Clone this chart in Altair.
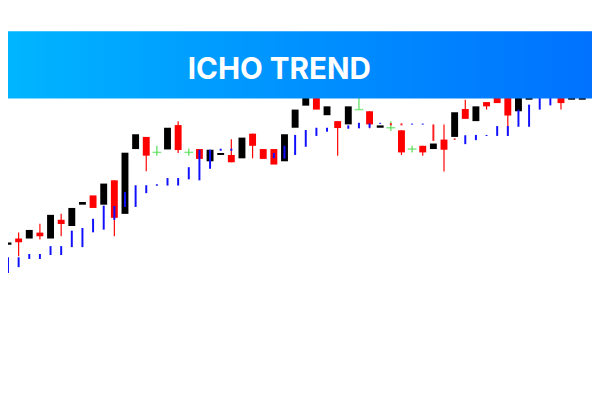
import altair as alt
import pandas as pd

idx = list(range(1, 56))
kind = ["b","r","b","r","b","r","b","b","r","b",
        "r","b","b","r","g","b","r","g","r","b",
        "b","r","b","r","r","r","b","b","b","r",
        "b","r","b","g","r","b","g","r","g","r",
        "b","r","b","r","b","r","r","r","b","b",
        "b","b","r","b","b"]
open_ = [154.7,161,161,167,161,180,173.7,195.3,204.7,195.3,
         220,186,251.7,264,248.3,251.3,276,248.3,251.7,239.3,
         245.7,245.7,242.3,267.3,251.7,251.7,239.3,273.3,295.7,310,
         286,280,276.7,291.7,290,273.3,273.3,270.7,251.7,255,
         251.7,261.3,264,292.3,280,299.3,305,305,290,301.7,
         305,305,308,301.7,301.7]
close = [157,157.3,169.7,163.3,185,175.7,192,198,192,216.7,
         182,248,266.7,245,248.3,273.3,250.7,248.3,241.7,251,
         247.7,238.3,263.3,255,241.7,236,266.7,291.7,310,291.7,
         295,273,295,291.7,276.7,275.7,273.3,248.3,251.7,248.3,
         257.3,251,289,282.3,295,295,298.3,285.7,310,315,
         315,315,298.3,310,310]
high = [None,167,None,176,None,186,None,None,None,None,
        None,None,None,None,255,None,280,252.3,None,None,
        None,261.7,None,None,None,None,None,None,None,None,
        None,None,None,312,None,None,280,None,255,None,
        None,276.7,None,301.7,None,None,None,None,None,None,
        None,None,None,None,None]
low = [None,143,None,160,None,163.3,None,None,None,None,
       163.3,None,None,229.3,245,None,247.7,245,None,None,
       None,None,None,242.3,None,None,None,None,None,None,
       None,245,None,291.7,272.7,None,270,245.7,248.3,245,
       None,229,None,None,None,291.7,None,265,None,None,
       None,None,291.7,None,None]
ind_top = [142,142,145.3,145.3,153.3,153.3,169,171.7,181,194.3,
           194,208,215,215,216,222.3,222.3,233.3,251,251,
           252,252,None,None,None,247.7,255,266,271,273.3,
           273.3,None,275.7,278.3,277.7,278.3,278,277.7,277.5,277.5,
           276.7,None,262.5,265.7,266,266,275,275,291.7,296.7,
           310,310,None,None,None]
ind_bot = [126,132,140.3,140.3,144.3,144.3,152.3,152.3,167.3,170,
           180,193,193,207,214.5,214.7,214.7,221,220,231.7,
           250,250,None,None,None,242.3,242,245.7,254,265,
           269.3,None,272.3,272.7,273.3,277.3,275.7,275.7,276.5,276.5,
           260,None,261,256.7,260.7,265,265,265,274.3,274.3,
           291.7,296,None,None,None]
ind_red = [37, 38, 41, 43]
title_text = "ICHO TREND"

W, H = 592, 392
xs = alt.Scale(domain=[1, 1 + W / 10.78], zero=False, nice=False, padding=0)
ys = alt.Scale(domain=[0, H], zero=False, nice=False, padding=0)
col_map = {"b": "#000000", "r": "#ff0000", "g": "#55dd55"}

rows = []
for i, k, o, c, hi, lo in zip(idx, kind, open_, close, high, low):
    rows.append(dict(i=i, kind=k, o=o, c=c,
                     top=max(o, c), bot=min(o, c),
                     hi=hi if hi is not None else max(o, c),
                     lo=lo if lo is not None else min(o, c),
                     haswick=(hi is not None or lo is not None),
                     color=col_map[k]))
df = pd.DataFrame(rows)

irows = []
for i, t, b in zip(idx, ind_top, ind_bot):
    if t is None:
        continue
    irows.append(dict(i=i, t=t, b=b, color="#ff2020" if i in ind_red else "#1010ff"))
dfi = pd.DataFrame(irows)

X = alt.X("i:Q", scale=xs, axis=None)

wicks = alt.Chart(df[df.haswick]).mark_rule(strokeWidth=1.2).encode(
    x=X,
    y=alt.Y("hi:Q", scale=ys, axis=None),
    y2="lo:Q",
    color=alt.Color("color:N", scale=None),
)
bodies = alt.Chart(df[df.kind != "g"]).mark_bar(size=7).encode(
    x=X,
    y=alt.Y("top:Q", scale=ys, axis=None),
    y2="bot:Q",
    color=alt.Color("color:N", scale=None),
)
doji = alt.Chart(df[df.kind == "g"]).mark_tick(orient="horizontal", size=9, thickness=1.5).encode(
    x=X,
    y=alt.Y("o:Q", scale=ys, axis=None),
    color=alt.Color("color:N", scale=None),
)
ind = alt.Chart(dfi).mark_rule(strokeWidth=2).encode(
    x=X,
    y=alt.Y("t:Q", scale=ys, axis=None),
    y2="b:Q",
    color=alt.Color("color:N", scale=None),
)

grad = alt.Gradient(
    gradient="linear",
    stops=[alt.GradientStop(color="#00b6ff", offset=0),
           alt.GradientStop(color="#0092ff", offset=0.5),
           alt.GradientStop(color="#0072ff", offset=1)],
    x1=0, x2=1, y1=0, y2=0,
)
one = pd.DataFrame({"t": [title_text]})
banner = alt.Chart(one).mark_rect(color=grad).encode(
    x=alt.value(-8), x2=alt.value(W), y=alt.value(21), y2=alt.value(89)
)
label = alt.Chart(one).mark_text(
    font="Inter", fontSize=30, fontWeight="bold", color="white",
    align="center", baseline="alphabetic",
).encode(x=alt.value(275), y=alt.value(69), text="t:N")

chart = alt.layer(wicks, bodies, ind, doji, banner, label).properties(
    width=W, height=H, padding=0, autosize="none", background="white"
).configure_view(stroke=None)

chart.save("out.html", embed_options={"renderer": "svg", "actions": False})
